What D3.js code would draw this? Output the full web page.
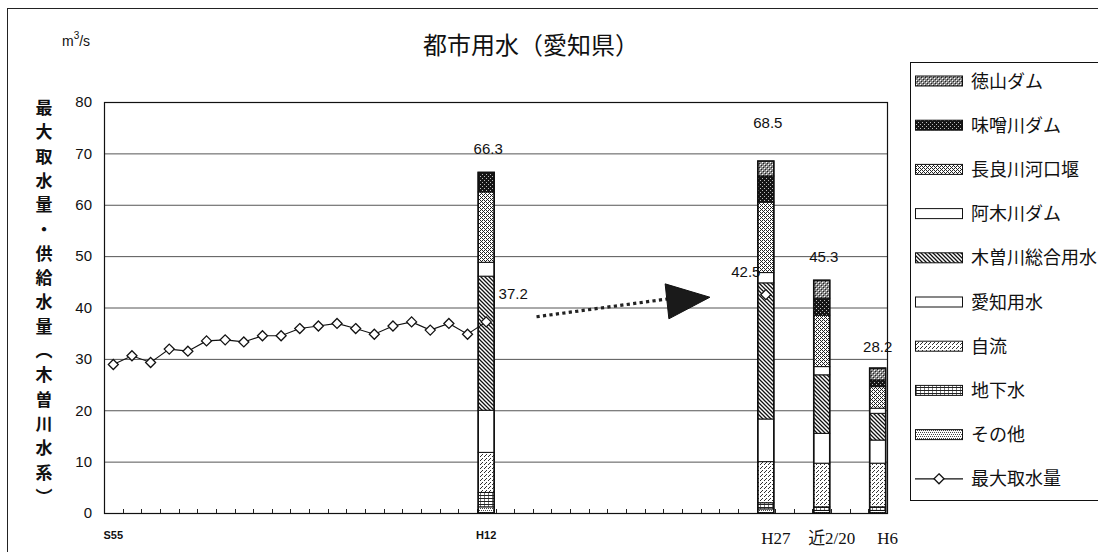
<!DOCTYPE html>
<html>
<head>
<meta charset="utf-8">
<script src="https://cdn.jsdelivr.net/npm/d3@7/dist/d3.min.js"></script>
<style>
  html, body { margin: 0; padding: 0; background: #fff; }
  svg { display: block; }
  text { fill: #111; }
</style>
</head>
<body>
<svg id="chart" width="1098" height="552"></svg>
<script>
// ---- data ----
// x slots: S55..H12 (yearly), H13..H27 (yearly), then spacer slots around 近2/20 and H6
const showaYears = ["S55","S56","S57","S58","S59","S60","S61","S62","S63"];
const heiseiYears = d3.range(1, 28).map(n => "H" + n);
const slots = showaYears.concat(heiseiYears, ["gapA","gapB","近2/20","gapC","gapD","H6"]);
// the far-right "H6" bar is a separate slot, so the yearly H6 gets its own key
slots[showaYears.length + 5] = "H6y";
const tickLabels = ["S55","H12","H27","近2/20","H6"];

// maximum water intake, S55..H12 (m3/s)
const intakeYears = showaYears.concat(["H1","H2","H3","H4","H5","H6y","H7","H8","H9","H10","H11","H12"]);
const intakeValues = [28.9, 30.6, 29.3, 31.9, 31.5, 33.5, 33.7, 33.3, 34.5, 34.5, 35.9,
                      36.4, 36.9, 35.9, 34.8, 36.4, 37.2, 35.6, 36.9, 34.8, 37.2];
const intakePlanSlot = "H27";
const intakePlanValue = 42.5;

// supply capacity by source (stacked bars)
const supplySlots = ["H12", "H27", "近2/20", "H6"];
const supplyTotals = [66.3, 68.5, 45.3, 28.2];
const sonota    = [1.2, 0.8, 0.5, 0.5];   // その他
const chikasui  = [2.8, 1.2, 0.7, 0.7];   // 地下水
const jiryu     = [7.8, 8.0, 8.5, 8.5];   // 自流
const aichiYosui= [8.2, 8.3, 5.8, 4.5];   // 愛知用水
const kisoSogo  = [26.1, 26.5, 11.4, 5.2];// 木曽川総合用水
const agigawa   = [2.7, 2.0, 1.6, 1.0];   // 阿木川ダム
const nagaragawa= [13.7, 13.7, 10.0, 4.2];// 長良川河口堰
const misogawa  = [3.8, 5.1, 3.3, 1.3];   // 味噌川ダム
const tokuyama  = [0.0, 2.9, 3.5, 2.3];   // 徳山ダム

const seriesNames = ["その他","地下水","自流","愛知用水","木曽川総合用水","阿木川ダム","長良川河口堰","味噌川ダム","徳山ダム"];
const seriesValues = [sonota, chikasui, jiryu, aichiYosui, kisoSogo, agigawa, nagaragawa, misogawa, tokuyama];
const seriesFill = ["url(#p-sonota)","url(#p-chika)","url(#p-jiryu)","#fff","url(#p-kiso)","#fff","url(#p-nagara)","url(#p-miso)","url(#p-toku)"];
const yTicks = [0,10,20,30,40,50,60,70,80];
const legendNames = ["徳山ダム","味噌川ダム","長良川河口堰","阿木川ダム","木曽川総合用水","愛知用水","自流","地下水","その他"];

// ---- layout ----
const svg = d3.select("#chart");
const plot = { left: 104, right: 887, top: 102, bottom: 513 };
const SANS = "'Liberation Sans', Arial, sans-serif";
const JP = "'Noto Sans CJK JP', sans-serif";

const x = d3.scaleBand().domain(slots).range([plot.left, plot.right]).paddingInner(0.14).paddingOuter(0.07);
const y = d3.scaleLinear().domain([0, 80]).range([plot.bottom, plot.top]);
const bw = x.bandwidth();
const cx = k => x(k) + bw / 2;

// ---- patterns ----
const defs = svg.append("defs");
function pattern(id, w, h, build) {
  const p = defs.append("pattern").attr("id", id).attr("patternUnits", "userSpaceOnUse")
    .attr("width", w).attr("height", h);
  build(p);
}
function dots(p, list, color) {
  list.forEach(([a, b]) => p.append("rect").attr("x", a).attr("y", b).attr("width", 1).attr("height", 1).attr("fill", color));
}
pattern("p-toku", 4, 4, p => {
  p.append("rect").attr("width", 4).attr("height", 4).attr("fill", "#8a8a8a");
  dots(p, [[0,0],[2,2]], "#fff");
  dots(p, [[1,1],[3,3]], "#222");
});
pattern("p-miso", 4, 4, p => {
  p.append("rect").attr("width", 4).attr("height", 4).attr("fill", "#151515");
  dots(p, [[0,0],[2,2]], "#bbb");
});
pattern("p-nagara", 4, 4, p => {
  p.append("rect").attr("width", 4).attr("height", 4).attr("fill", "#fff");
  dots(p, [[0,0],[1,1],[2,2],[3,3],[2,0],[0,2]], "#222");
});
pattern("p-kiso", 4, 4, p => {
  p.append("rect").attr("width", 4).attr("height", 4).attr("fill", "#fff");
  p.append("path").attr("d", "M-1,-1 L5,5 M-1,3 L1,5 M3,-1 L5,1").attr("stroke", "#111").attr("stroke-width", 1.3);
});
pattern("p-jiryu", 4, 4, p => {
  p.append("rect").attr("width", 4).attr("height", 4).attr("fill", "#fff");
  dots(p, [[0,0],[2,2],[1,3]], "#333");
});
pattern("p-chika", 4, 3, p => {
  p.append("rect").attr("width", 4).attr("height", 3).attr("fill", "#fff");
  p.append("rect").attr("y", 0).attr("width", 4).attr("height", 1).attr("fill", "#222");
  p.append("rect").attr("x", 0).attr("y", 1).attr("width", 1).attr("height", 2).attr("fill", "#777");
});
pattern("p-sonota", 4, 4, p => {
  p.append("rect").attr("width", 4).attr("height", 4).attr("fill", "#fff");
  dots(p, [[0,0],[2,0],[1,2],[3,2]], "#444");
});

// ---- outer frame ----
svg.append("rect").attr("x", 7.5).attr("y", 8.5).attr("width", 1100).attr("height", 560)
  .attr("fill", "none").attr("stroke", "#222").attr("stroke-width", 1);

// ---- title & unit ----
svg.append("text").attr("x", 531).attr("y", 54).attr("text-anchor", "middle")
  .style("font-family", JP).style("font-size", "24px").text("都市用水（愛知県）");
const unit = svg.append("text").attr("x", 62).attr("y", 46).style("font-family", SANS).style("font-size", "14px");
unit.append("tspan").text("m");
unit.append("tspan").attr("dy", -7).style("font-size", "10px").text("3");
unit.append("tspan").attr("dy", 7).text("/s");

// vertical axis title, one glyph per row
const yTitle = "最大取水量・供給水量︵木曽川水系︶".split("");
svg.append("g").selectAll("text").data(yTitle).join("text")
  .attr("x", 44).attr("y", (d, i) => 114 + i * 24.3).attr("text-anchor", "middle")
  .style("font-family", JP).style("font-size", "17px").style("font-weight", "bold").text(d => d);

// ---- gridlines ----
svg.append("g").selectAll("line").data(yTicks.filter(v => v > 0 && v < 80)).join("line")
  .attr("x1", plot.left).attr("x2", plot.right).attr("y1", d => y(d) + 0.5).attr("y2", d => y(d) + 0.5)
  .attr("stroke", "#555").attr("stroke-width", 1);

// plot frame
svg.append("rect").attr("x", plot.left + 0.5).attr("y", y(80) + 0.5)
  .attr("width", plot.right - plot.left).attr("height", y(0) - y(80))
  .attr("fill", "none").attr("stroke", "#111").attr("stroke-width", 1.2);

// ---- y axis ----
const yAxis = svg.append("g").attr("transform", `translate(${plot.left},0)`)
  .call(d3.axisLeft(y).tickValues(yTicks).tickSize(0).tickPadding(12).tickFormat(d3.format("d")));
yAxis.select(".domain").remove();
yAxis.selectAll("text").style("font-family", SANS).style("font-size", "15px").attr("fill", "#111");

// ---- x axis ticks at slot boundaries ----
const step = x.step();
svg.append("g").selectAll("line").data(slots.slice(1)).join("line")
  .attr("x1", d => Math.round(x(d) - step * 0.07) + 0.5).attr("x2", d => Math.round(x(d) - step * 0.07) + 0.5)
  .attr("y1", y(0)).attr("y2", y(0) - 4).attr("stroke", "#222").attr("stroke-width", 1);

// x labels
const smallLabel = { "S55": true, "H12": true };
svg.append("g").selectAll("text").data(tickLabels).join("text")
  .attr("x", d => cx(d) + (smallLabel[d] ? 0 : 10))
  .attr("y", d => smallLabel[d] ? 539 : 544)
  .attr("text-anchor", "middle")
  .style("font-family", d => smallLabel[d] ? SANS : "'Liberation Serif', 'Noto Sans CJK JP', serif")
  .style("font-size", d => smallLabel[d] ? "11px" : "17px")
  .style("font-weight", d => smallLabel[d] ? "bold" : "normal")
  .text(d => d);

// ---- stacked bars ----
const rows = supplySlots.map((k, i) => {
  const r = { key: k };
  seriesNames.forEach((s, j) => { r[s] = seriesValues[j][i]; });
  return r;
});
const stacked = d3.stack().keys(seriesNames)(rows);
const barW = 16;
const barG = svg.append("g");
stacked.forEach((layer, j) => {
  barG.append("g").selectAll("rect").data(layer.filter(d => d[1] - d[0] > 0)).join("rect")
    .attr("x", d => cx(d.data.key) - barW / 2).attr("width", barW)
    .attr("y", d => y(d[1])).attr("height", d => y(d[0]) - y(d[1]))
    .attr("fill", seriesFill[j]).attr("stroke", "#111").attr("stroke-width", 1);
});
barG.append("g").selectAll("rect").data(supplySlots).join("rect")
  .attr("x", d => cx(d) - barW / 2).attr("width", barW)
  .attr("y", (d, i) => y(supplyTotals[i])).attr("height", (d, i) => y(0) - y(supplyTotals[i]))
  .attr("fill", "none").attr("stroke", "#111").attr("stroke-width", 1.6);

// total labels above bars
const totalLift = { "H12": 18, "H27": 33, "近2/20": 18, "H6": 16 };
svg.append("g").selectAll("text").data(supplySlots).join("text")
  .attr("x", d => cx(d) + (d === "H6" ? 0 : 2)).attr("y", (d, i) => y(supplyTotals[i]) - totalLift[d])
  .attr("text-anchor", "middle").style("font-family", SANS).style("font-size", "15px")
  .text((d, i) => supplyTotals[i].toFixed(1));

// ---- maximum intake line ----
const diamond = "M0,-5 L5,0 L0,5 L-5,0 Z";
const pts = intakeYears.map((k, i) => ({ k, v: intakeValues[i] }));
svg.append("path").datum(pts)
  .attr("d", d3.line().x(d => cx(d.k)).y(d => y(d.v)))
  .attr("fill", "none").attr("stroke", "#111").attr("stroke-width", 1.1);
svg.append("g").selectAll("path").data(pts.concat([{ k: intakePlanSlot, v: intakePlanValue }])).join("path")
  .attr("d", diamond).attr("transform", d => `translate(${cx(d.k)},${y(d.v)})`)
  .attr("fill", "#fff").attr("stroke", "#111").attr("stroke-width", 1.3);

const lastIntake = intakeValues[intakeValues.length - 1];
svg.append("text").attr("x", cx("H12") + 27).attr("y", y(lastIntake) - 23).attr("text-anchor", "middle")
  .style("font-family", SANS).style("font-size", "15px").text(lastIntake.toFixed(1));
svg.append("text").attr("x", cx(intakePlanSlot) - 20).attr("y", y(intakePlanValue) - 18).attr("text-anchor", "middle")
  .style("font-family", SANS).style("font-size", "15px").text(intakePlanValue.toFixed(1));

// ---- dotted trend arrow from the H12 intake toward the H27 plan ----
const xs = d3.scaleLinear().domain([0, slots.length]).range([plot.left, plot.right]);
const a0 = [xs(23.2), y(38.2)];
const a1 = [xs(30.3), y(41.7)];
const tip = [xs(32.5), y(42.0)];
svg.append("path")
  .attr("d", `M${a0[0]},${a0[1]} Q${(a0[0] + a1[0]) / 2},${a0[1] - 9} ${a1[0]},${a1[1]}`)
  .attr("fill", "none").attr("stroke", "#222").attr("stroke-width", 3.2).attr("stroke-dasharray", "3.2 3.3");
svg.append("path")
  .attr("d", `M${xs(30.1)},${y(44.6)} L${tip[0]},${tip[1]} L${xs(30.3)},${y(37.8)} Z`)
  .attr("fill", "#1a1a1a").attr("stroke", "#111").attr("stroke-width", 1);

// ---- legend ----
const lg = svg.append("g");
lg.append("rect").attr("x", 910.5).attr("y", 62.5).attr("width", 200).attr("height", 438)
  .attr("fill", "#fff").attr("stroke", "#111").attr("stroke-width", 1);
const legendFill = name => seriesFill[seriesNames.indexOf(name)];
const rowY = i => 81 + i * 44.2;
legendNames.forEach((name, i) => {
  lg.append("rect").attr("x", 915.5).attr("y", rowY(i) - 5).attr("width", 47).attr("height", 10)
    .attr("fill", legendFill(name)).attr("stroke", "#111").attr("stroke-width", 1);
  lg.append("text").attr("x", 971).attr("y", rowY(i) + 6.5).style("font-family", JP).style("font-size", "18px").text(name);
});
const li = legendNames.length;
lg.append("line").attr("x1", 915).attr("x2", 963).attr("y1", rowY(li)).attr("y2", rowY(li))
  .attr("stroke", "#111").attr("stroke-width", 1.2);
lg.append("path").attr("d", diamond).attr("transform", `translate(939,${rowY(li)})`)
  .attr("fill", "#fff").attr("stroke", "#111").attr("stroke-width", 1.3);
lg.append("text").attr("x", 971).attr("y", rowY(li) + 6.5).style("font-family", JP).style("font-size", "18px").text("最大取水量");
</script>
</body>
</html>
